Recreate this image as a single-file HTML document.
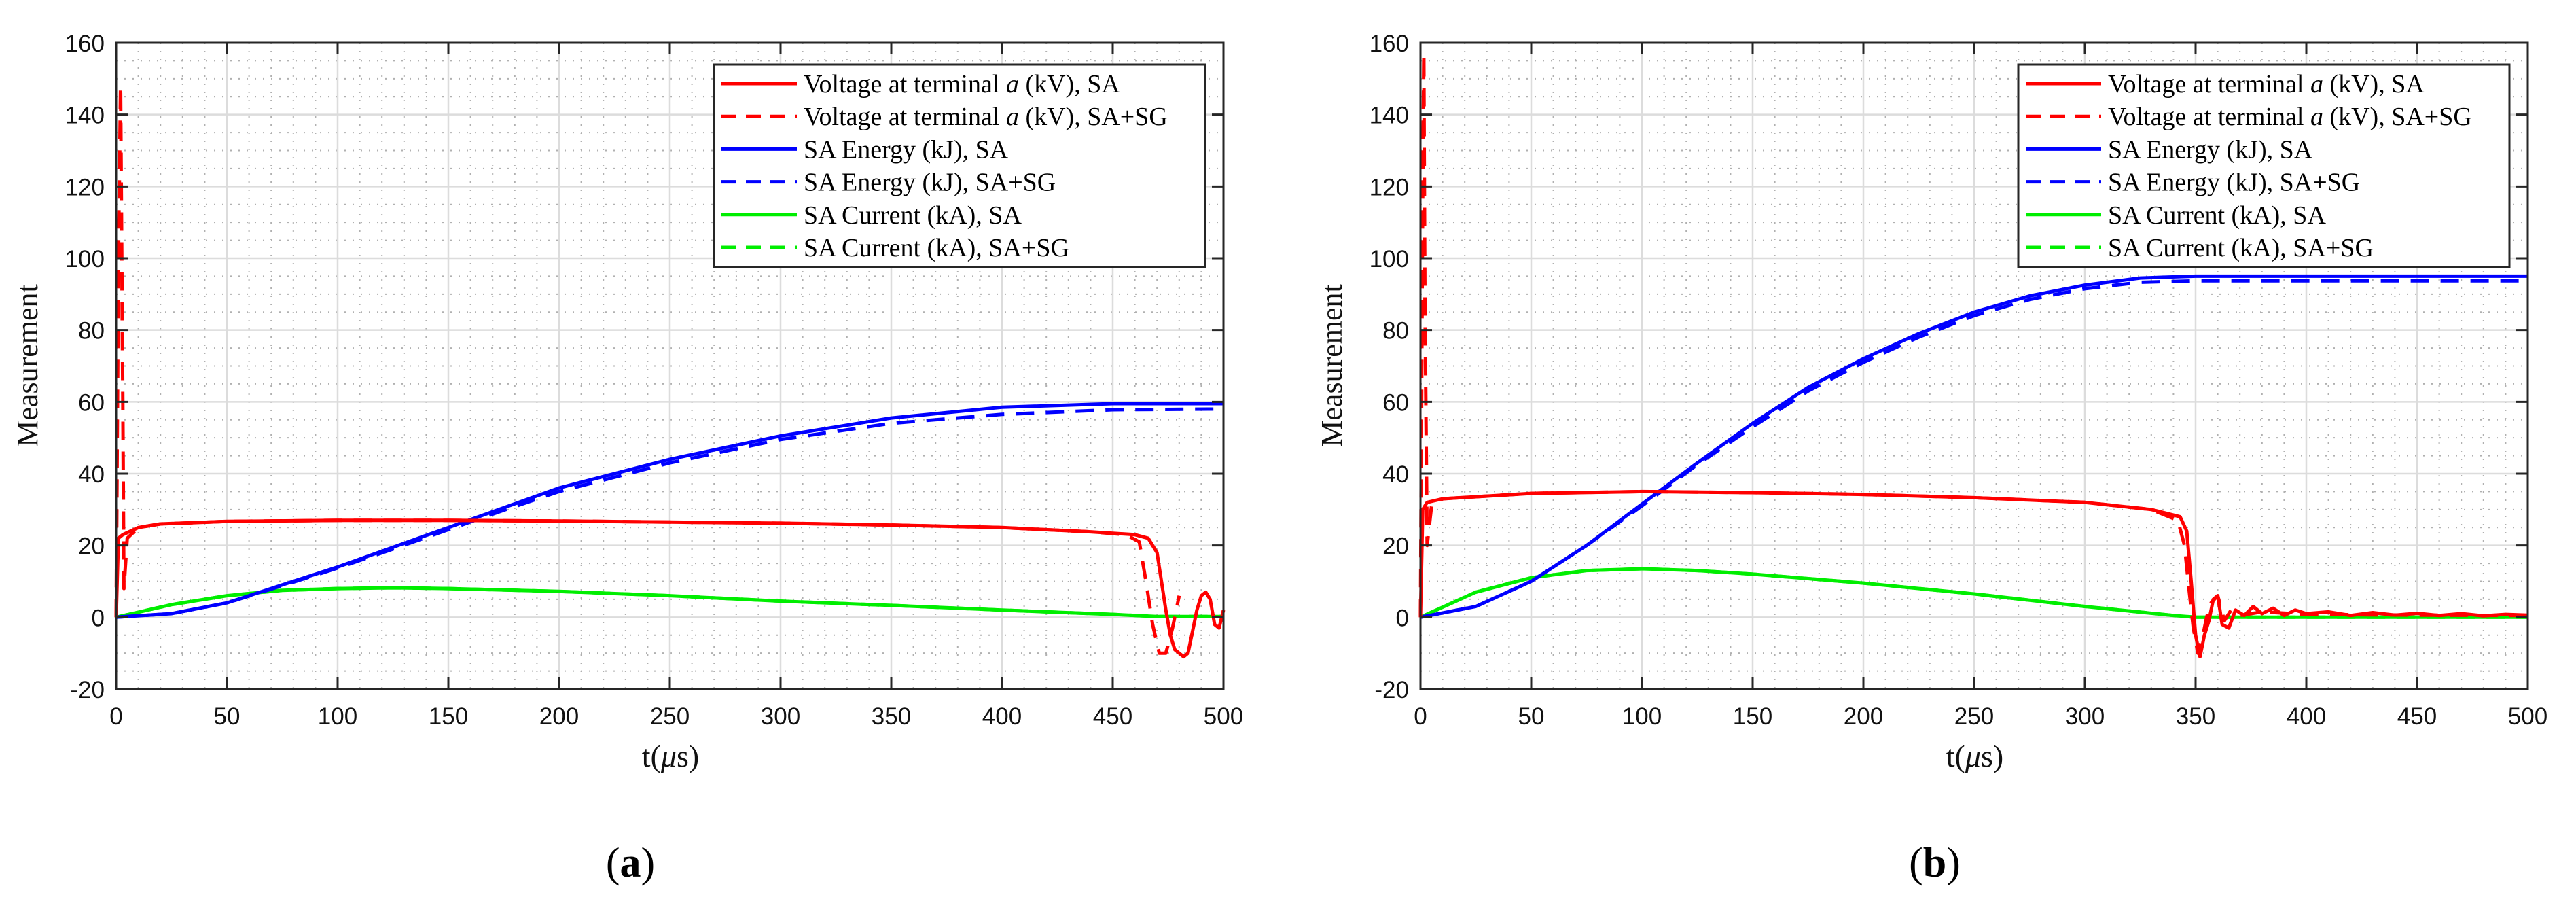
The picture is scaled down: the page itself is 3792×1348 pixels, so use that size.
<!DOCTYPE html>
<html><head><meta charset="utf-8"><style>
html,body{margin:0;padding:0;background:#fff;}
svg{display:block;}
</style></head><body>
<svg id="fig" width="3792" height="1348" viewBox="0 0 3792 1348" xmlns="http://www.w3.org/2000/svg"></svg>
<script>
// ---- Data: panel (a) ----
const aVsaT = [0,1,3,10,20,50,100,150,200,250,300,350,400,440,460,466,470,472,474,476,478,480,482,484,486,488,490,492,494,496,498,500];
const aVsaV = [0,22,23,25,26,26.7,27,27,26.8,26.5,26.2,25.7,25,23.8,23,22,18,10,2,-5,-9,-10,-11,-10,-4,2,6,7,5,-2,-3,2];
const aVsgT = [0,1,2,3,3.5,5,10,20,50,100,150,200,250,300,350,400,440,456,462,465,468,471,474,477,480];
const aVsgV = [0,100,148,60,8,22,25,26,26.7,27,27,26.8,26.5,26.2,25.7,25,23.8,23,21,10,-2,-10,-10,-3,6];
const aEsaT = [0,25,50,75,100,125,150,175,200,250,300,350,400,450,500];
const aEsaV = [0,1,4,9,14,19.5,25,30.5,36,44,50.5,55.5,58.5,59.5,59.5];
const aEsgT = [0,25,50,75,100,125,150,175,200,250,300,350,400,450,500];
const aEsgV = [0,1,4,8.8,13.7,19,24.4,29.8,35,43,49.5,54,56.5,57.8,58];
const aIT = [0,25,50,75,100,125,150,200,250,300,350,400,450,470,500];
const aIV = [0,3.5,6,7.5,8,8.2,8,7.2,6,4.5,3.3,2,0.8,0.2,0.2];
// ---- Data: panel (b) ----
const bVsaT = [0,1,3,10,50,100,150,200,250,300,330,343,346,348,350,352,354,356,358,360,362,365,368,372,376,380,385,390,395,400,410,420,430,440,450,460,470,480,490,500];
const bVsaV = [0,30,32,33,34.5,35,34.7,34.2,33.3,32,30,28,24,10,-5,-11,-5,-1,5,6,-2,-3,2,0.5,3,1,2.5,0.5,2,1,1.5,0.5,1.3,0.6,1.1,0.5,1,0.4,0.8,0.6];
const bVsgT = [0,1,1.5,2,3,5,10,50,100,150,200,250,300,330,342,345,347,349,351,353,355,357,360,363,366,370,380,400,450,500];
const bVsgV = [0,120,157,90,20,31,33,34.5,35,34.7,34.2,33.3,32,30,27,20,8,-3,-10,-6,0,4,6,-1,2,0.5,1.5,0.8,0.6,0.5];
const bEsaT = [0,25,50,75,100,125,150,175,200,225,250,275,300,325,350,500];
const bEsaV = [0,3,10,20,31.5,43,54,64,72,79,85,89.5,92.5,94.5,95,95];
const bEsgT = [0,25,50,75,100,125,150,175,200,225,250,275,300,325,350,500];
const bEsgV = [0,3,10,20,31,42.5,53,63,71,78,84,88.5,91.5,93.3,93.7,93.7];
const bIT = [0,25,50,75,100,125,150,200,250,300,340,350,500];
const bIV = [0,7,11,13,13.5,13,12,9.5,6.5,3,0.5,0,0];
// ---- Ticks ----
const xTicks = [0,50,100,150,200,250,300,350,400,450,500];
const yTicks = [-20,0,20,40,60,80,100,120,140,160];
const legendLabels = ["Voltage at terminal |a| (kV), SA","Voltage at terminal |a| (kV), SA+SG","SA Energy (kJ), SA","SA Energy (kJ), SA+SG","SA Current (kA), SA","SA Current (kA), SA+SG"];

const NS="http://www.w3.org/2000/svg";
const svg=document.getElementById('fig');
function mk(tag,attrs,parent){const e=document.createElementNS(NS,tag);for(const k in attrs)e.setAttribute(k,attrs[k]);(parent||svg).appendChild(e);return e;}

const TOP=63, BOT=1014, Y0=-20, Y1=160;
function yS(v){return BOT-(v-Y0)/(Y1-Y0)*(BOT-TOP);}

function panel(L,R,name,letter,series){
  const g=mk('g',{});
  
  
  const xS=v=>L+v/500*(R-L);
  // minor grid
  for(let x=10;x<500;x+=10){ if(x%50) { const l=mk('line',{x1:xS(x),x2:xS(x),y1:TOP,y2:BOT,stroke:'#b0b0b0','stroke-width':2,'stroke-dasharray':'2 10'},g);   } }
  for(let y=-15;y<160;y+=5){ if(y%20){ const l=mk('line',{x1:L,x2:R,y1:yS(y),y2:yS(y),stroke:'#b0b0b0','stroke-width':2,'stroke-dasharray':'2 10'},g);   } }
  // major grid
  xTicks.forEach(t=>{const l=mk('line',{x1:xS(t),x2:xS(t),y1:TOP,y2:BOT,stroke:'#dcdcdc','stroke-width':2.5},g);  });
  yTicks.forEach(t=>{const l=mk('line',{x1:L,x2:R,y1:yS(t),y2:yS(t),stroke:'#dcdcdc','stroke-width':2.5},g);  });
  // series
  series.forEach(s=>{
    const pts=s.t.map((t,i)=>xS(t).toFixed(1)+','+yS(s.v[i]).toFixed(1)).join(' ');
    const p=mk('polyline',{points:pts,fill:'none',stroke:s.c,'stroke-width':5,'stroke-linejoin':'round','stroke-dasharray':s.d?'27 17':'none'},g);
    
    
  });
  // axes box
  const box=mk('rect',{x:L,y:TOP,width:R-L,height:BOT-TOP,fill:'none',stroke:'#262626','stroke-width':3},g);
  
  
  xTicks.forEach(t=>{
    mk('line',{x1:xS(t),x2:xS(t),y1:BOT,y2:BOT-17,stroke:'#262626','stroke-width':3},g);
    mk('line',{x1:xS(t),x2:xS(t),y1:TOP,y2:TOP+17,stroke:'#262626','stroke-width':3},g);
    const tx=mk('text',{x:xS(t),y:1066,'font-family':'Liberation Sans, sans-serif','font-size':35,'text-anchor':'middle',fill:'#111'},g);
    tx.textContent=t;
    
    
  });
  yTicks.forEach(t=>{
    mk('line',{x1:L,x2:L+17,y1:yS(t),y2:yS(t),stroke:'#262626','stroke-width':3},g);
    mk('line',{x1:R,x2:R-17,y1:yS(t),y2:yS(t),stroke:'#262626','stroke-width':3},g);
    const tx=mk('text',{x:L-17,y:yS(t)+13,'font-family':'Liberation Sans, sans-serif','font-size':35,'text-anchor':'end',fill:'#111'},g);
    tx.textContent=t;
    
    
  });
  // y label
  const yl=mk('text',{x:0,y:0,transform:`translate(${L-116},538) rotate(-90)`,'font-family':'Liberation Serif, serif','font-size':44,'text-anchor':'middle',fill:'#111'},g);
  yl.textContent='Measurement';
  
  
  // x label
  const xl=mk('text',{x:L+816,y:1128,'font-family':'Liberation Serif, serif','font-size':46,'text-anchor':'middle',fill:'#111'},g);
  xl.innerHTML='t(<tspan font-style="italic">μ</tspan>s)';
  
  
  // panel letter
  const pl=mk('text',{x:L+757,y:1290,'font-family':'Liberation Serif, serif','font-size':62,'text-anchor':'middle',fill:'#000'},g);
  pl.innerHTML='(<tspan font-weight="bold">'+letter+'</tspan>)';
  
  
  // legend
  const LX=L+880;
  const lg=mk('g',{},g);
  
  
  mk('rect',{x:LX,y:95,width:723,height:298,fill:'#fff',stroke:'#262626','stroke-width':3},lg);
  const cols=['#ff0000','#ff0000','#0000ff','#0000ff','#00ee00','#00ee00'];
  legendLabels.forEach((lab,i)=>{
    const y=123+i*48.2;
    const ln=mk('line',{x1:LX+11,x2:LX+122,y1:y,y2:y,stroke:cols[i],'stroke-width':5,'stroke-dasharray':i%2?'22 14':'none'},lg);
    
    
    const tx=mk('text',{x:LX+132,y:y+13,'font-family':'Liberation Serif, serif','font-size':38,fill:'#000'},lg);
    const parts=lab.split('|');
    tx.innerHTML=parts.length>1?parts[0]+'<tspan font-style="italic">'+parts[1]+'</tspan>'+parts[2]:lab;
    
    
  });
}

panel(171,1801,'panel-a','a',[
  {t:aIT,v:aIV,c:'#00ee00',d:false,n:'current-sa'},
  {t:aIT,v:aIV,c:'#00ee00',d:true,n:'current-sa-sg'},
  {t:aEsgT,v:aEsgV,c:'#0000ff',d:true,n:'energy-sa-sg'},
  {t:aEsaT,v:aEsaV,c:'#0000ff',d:false,n:'energy-sa'},
  {t:aVsgT,v:aVsgV,c:'#ff0000',d:true,n:'voltage-sa-sg'},
  {t:aVsaT,v:aVsaV,c:'#ff0000',d:false,n:'voltage-sa'}
]);
panel(2091,3721,'panel-b','b',[
  {t:bIT,v:bIV,c:'#00ee00',d:false,n:'current-sa'},
  {t:bIT,v:bIV,c:'#00ee00',d:true,n:'current-sa-sg'},
  {t:bEsgT,v:bEsgV,c:'#0000ff',d:true,n:'energy-sa-sg'},
  {t:bEsaT,v:bEsaV,c:'#0000ff',d:false,n:'energy-sa'},
  {t:bVsgT,v:bVsgV,c:'#ff0000',d:true,n:'voltage-sa-sg'},
  {t:bVsaT,v:bVsaV,c:'#ff0000',d:false,n:'voltage-sa'}
]);
</script>
</body></html>
